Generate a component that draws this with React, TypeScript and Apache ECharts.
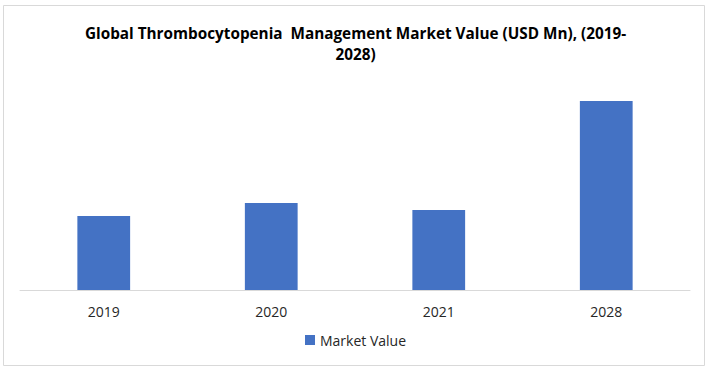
import React, { useEffect, useRef } from "react";
import * as echarts from "echarts";

const categories = ["2019", "2020", "2021", "2028"];
const marketValue = [74, 87, 80, 189];
const seriesName = "Market Value";
const titleText = "Global Thrombocytopenia  Management Market Value (USD Mn), (2019-\n2028)";

export default function App() {
  const ref = useRef<HTMLDivElement>(null);
  useEffect(() => {
    if (!ref.current) return;
    const chart = echarts.init(ref.current, null, { renderer: "svg" });
    chart.setOption({
      animation: false,
      backgroundColor: "#ffffff",
      title: {
        text: titleText,
        left: "center",
        top: 17,
        textStyle: {
          fontFamily: "Open Sans",
          fontWeight: "bold",
          fontSize: 15.3,
          color: "#000000",
          lineHeight: 21,
        },
      },
      graphic: [
        {
          type: "rect",
          shape: { x: 3.5, y: 5.5, width: 701, height: 360 },
          style: { fill: "none", stroke: "#d9d9d9", lineWidth: 1 },
          silent: true,
        },
      ],
      legend: {
        data: [seriesName],
        bottom: 19,
        left: "center",
        itemWidth: 10,
        itemHeight: 10,
        icon: "rect",
        itemGap: 6,
        textStyle: { fontFamily: "Open Sans", fontSize: 14, color: "#262626" },
      },
      grid: { left: 20, right: 21, top: 70, bottom: 81, containLabel: false },
      xAxis: {
        type: "category",
        data: categories,
        axisLine: { show: true, lineStyle: { color: "#d9d9d9", width: 1 } },
        axisTick: { show: false },
        axisLabel: {
          fontFamily: "Open Sans",
          fontSize: 14,
          color: "#262626",
          margin: 14,
        },
      },
      yAxis: {
        type: "value",
        min: 0,
        max: 220,
        show: false,
        splitLine: { show: false },
      },
      series: [
        {
          name: seriesName,
          type: "bar",
          data: marketValue,
          barWidth: "31.5%",
          itemStyle: { color: "#4472c4" },
        },
      ],
    });
    return () => chart.dispose();
  }, []);
  return (
    <div
      ref={ref}
      style={{ position: "fixed", left: 0, top: 0, width: 711, height: 371 }}
    />
  );
}
